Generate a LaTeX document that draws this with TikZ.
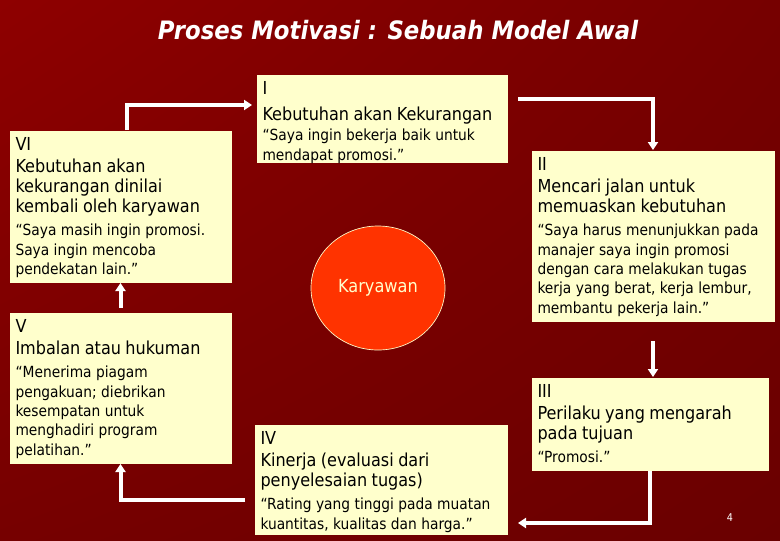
\documentclass[tikz,border=0pt]{standalone}
\usepackage{fontspec}
\setmainfont{DejaVuSansCondensed}[Extension=.ttf,BoldFont=*-Bold,ItalicFont=*-Oblique,BoldItalicFont=*-BoldOblique]
\usetikzlibrary{arrows.meta,calc,shapes.geometric,shadings}

\definecolor{cardfill}{RGB}{255,255,204}
\definecolor{bgA}{RGB}{142,0,0}
\definecolor{bgB}{RGB}{118,0,0}
\definecolor{bgC}{RGB}{118,0,0}
\definecolor{bgD}{RGB}{106,0,0}
\definecolor{selfred}{RGB}{255,51,0}

\newcommand{\headfont}{\fontsize{13.4}{15}\selectfont}
\newcommand{\quotefont}{\fontsize{11.5}{14.5}\selectfont}

\tikzset{every picture/.style={line width=0.75pt}}
\tikzset{
  card/.style={fill=cardfill, draw=none, inner sep=0pt, anchor=north west},
  cardtext/.style={anchor=north west, inner xsep=4.5pt, inner ysep=5.5pt, align=left, text=black},
  flow/.style={draw=white, line width=3pt, -{Triangle[width=7.5pt,length=6pt]}},
}

\begin{document}
\begin{tikzpicture}[x=0.75pt,y=0.75pt,yscale=-1,xscale=1]
		\useasboundingbox (0,0) rectangle (780,540);
		
		%Shape: Rectangle (background)
		\shade [upper left=bgA, upper right=bgB, lower left=bgC, lower right=bgD] (0,0) rectangle (780,540);
		
		% Text Node
		\node [text=white, font=\fontsize{19}{21}\selectfont\bfseries\itshape] (title) at (398,30) {Proses Motivasi : Sebuah Model Awal};
		
		%Shape: Rectangle [I]
		\node [card, minimum width=188.25pt, minimum height=66pt] (nI) at (256,74) {};
		%Shape: Rectangle [II]
		\node [card, minimum width=182.25pt, minimum height=128.25pt] (nII) at (531,150) {};
		%Shape: Rectangle [III]
		\node [card, minimum width=177.75pt, minimum height=69.75pt] (nIII) at (531,377) {};
		%Shape: Rectangle [IV]
		\node [card, minimum width=189.75pt, minimum height=82.5pt] (nIV) at (254,424) {};
		%Shape: Rectangle [V]
		\node [card, minimum width=166.5pt, minimum height=113.25pt] (nV) at (9,312) {};
		%Shape: Rectangle [VI]
		\node [card, minimum width=166.5pt, minimum height=114pt] (nVI) at (9,130) {};
		
		%Shape: Ellipse
		\node [ellipse, fill=selfred, draw=cardfill, line width=0.5pt, minimum width=100.5pt, minimum height=93pt, inner sep=0pt, text=cardfill, font=\fontsize{13.5}{15}\selectfont] (nK) at (378,288) {Karyawan};
		
		% Text Node
		\node [cardtext, text width=179.25pt] (tI) at (nI.north west) {\headfont I\\[4.5pt]Kebutuhan akan Kekurangan\par\vspace{0.5pt}\quotefont “Saya ingin bekerja baik untuk\\mendapat promosi.”\par};
		% Text Node
		\node [cardtext, text width=173.25pt] (tII) at (nII.north west) {\headfont II\\[1.5pt]Mencari jalan untuk\\memuaskan kebutuhan\par\vspace{2.75pt}\quotefont “Saya harus menunjukkan pada\\manajer saya ingin promosi\\dengan cara melakukan tugas\\kerja yang berat, kerja lembur,\\membantu pekerja lain.”\par};
		% Text Node
		\node [cardtext, text width=168.75pt] (tIII) at (nIII.north west) {\headfont III\\[1.5pt]Perilaku yang mengarah\\pada tujuan\par\vspace{2.75pt}\quotefont “Promosi.”\par};
		% Text Node
		\node [cardtext, text width=180.75pt] (tIV) at (nIV.north west) {\headfont IV\\[1.5pt]Kinerja (evaluasi dari\\penyelesaian tugas)\par\vspace{2.75pt}\quotefont “Rating yang tinggi pada muatan\\kuantitas, kualitas dan harga.”\par};
		% Text Node
		\node [cardtext, text width=157.5pt] (tV) at (nV.north west) {\headfont V\\[1.5pt]Imbalan atau hukuman\par\vspace{2.75pt}\quotefont “Menerima piagam\\pengakuan; diebrikan\\kesempatan untuk\\menghadiri program\\pelatihan.”\par};
		% Text Node
		\node [cardtext, text width=157.5pt] (tVI) at (nVI.north west) {\headfont VI\\[1.5pt]Kebutuhan akan\\kekurangan dinilai\\kembali oleh karyawan\par\vspace{2.75pt}\quotefont “Saya masih ingin promosi.\\Saya ingin mencoba\\pendekatan lain.”\par};
		
		% free ends of the connectors
		\coordinate (outI) at ($(nI.north east)+(10,25)$);
		\coordinate (inIV) at ($(nIV.south east)+(10,-12)$);
		\coordinate (outIV) at ($(nIV.south west)+(-9,-35)$);
		\coordinate (outVI) at ($(nVI.north)+(6,0)$);
		\coordinate (inI) at ($(nI.north west)+(-4,31)$);
		
		%Straight Lines
		\draw [flow] (outI) -| (nII.north);
		\draw [flow, shorten <=14.25pt] (nII.south) -- (nII.south |- nIII.north);
		\draw [flow] (nIII.south) |- (inIV);
		\draw [flow] (outIV) -| (nV.south);
		\draw [flow, shorten <=3pt] (nV.north) -- (nVI.south);
		\draw [flow] (outVI) |- (inI);
		
		% Text Node
		\node [text=white, font=\fontsize{8}{9}\selectfont] (pnum) at (730,518) {4};
		
\end{tikzpicture}
\end{document}
